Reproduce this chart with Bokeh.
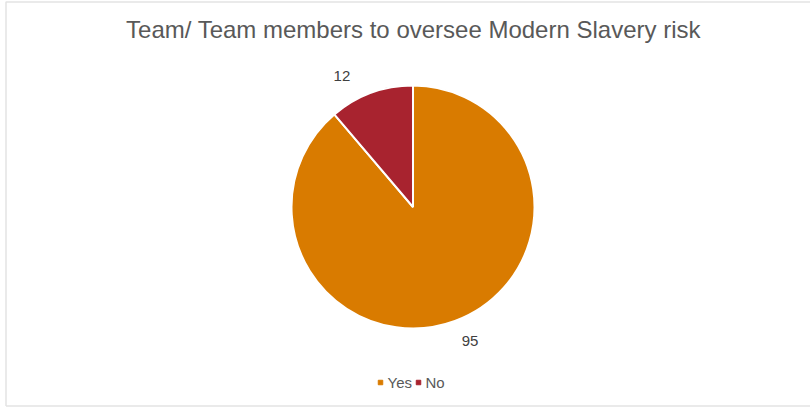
import math
from bokeh.plotting import figure
from bokeh.models import Range1d
from bokeh.core.properties import value
from bokeh.embed import file_html
from bokeh.resources import INLINE

title = "Team/ Team members to oversee Modern Slavery risk"
categories = ["Yes", "No"]
values = [95, 12]
colors = ["#D97B00", "#A8232F"]

W, H = 810, 407
p = figure(width=W, height=H, output_backend="svg", toolbar_location=None,
           x_range=Range1d(0, W), y_range=Range1d(0, H), min_border=0)
p.axis.visible = False
p.grid.visible = False
p.outline_line_color = None
p.background_fill_color = "white"

# faint frame
p.line(x=[5.5, 5.5, W], y=[H - 405.5, H - 1.5, H - 1.5], line_color="#E3E3E3", line_width=1.5)
p.line(x=[5.5, W], y=[H - 405.5, H - 405.5], line_color="#E3E3E3", line_width=1.5)

cx, cy, r = 412.5, H - 206.5, 121.5
total = sum(values)
start = math.pi / 2
starts, ends, mids = [], [], []
for v in values:
    sweep = 2 * math.pi * v / total
    starts.append(start - sweep)
    ends.append(start)
    mids.append(start - sweep / 2)
    start -= sweep

p.wedge(x=[cx] * len(values), y=[cy] * len(values), radius=r,
        start_angle=starts, end_angle=ends, fill_color=colors,
        line_color="white", line_width=2)

# data labels
label_r = 148
nudges = [(6, 5), (-20, -8)]
lx = [cx + label_r * math.cos(m) + n[0] for m, n in zip(mids, nudges)]
ly = [cy + label_r * math.sin(m) + n[1] for m, n in zip(mids, nudges)]
p.text(x=lx, y=ly, text=[str(v) for v in values], text_align="center",
       text_baseline="middle", text_font=value("Liberation Sans"),
       text_font_size="15px", text_color="#404040")

# title
p.text(x=[413], y=[H - 29], text=[title], text_align="center",
       text_baseline="middle", text_font=value("Liberation Sans"),
       text_font_size="24px", text_color="#595959")

# legend
leg_x = [380, 418]
leg_y = H - 382
p.scatter(x=leg_x, y=[leg_y] * 2, marker="square", size=4.5, color=colors)
p.text(x=[x + 7 for x in leg_x], y=[leg_y] * 2, text=categories, text_align="left",
       text_baseline="middle", text_font=value("Liberation Sans"),
       text_font_size="15px", text_color="#595959")

open("out.html", "w").write(file_html(p, INLINE))
